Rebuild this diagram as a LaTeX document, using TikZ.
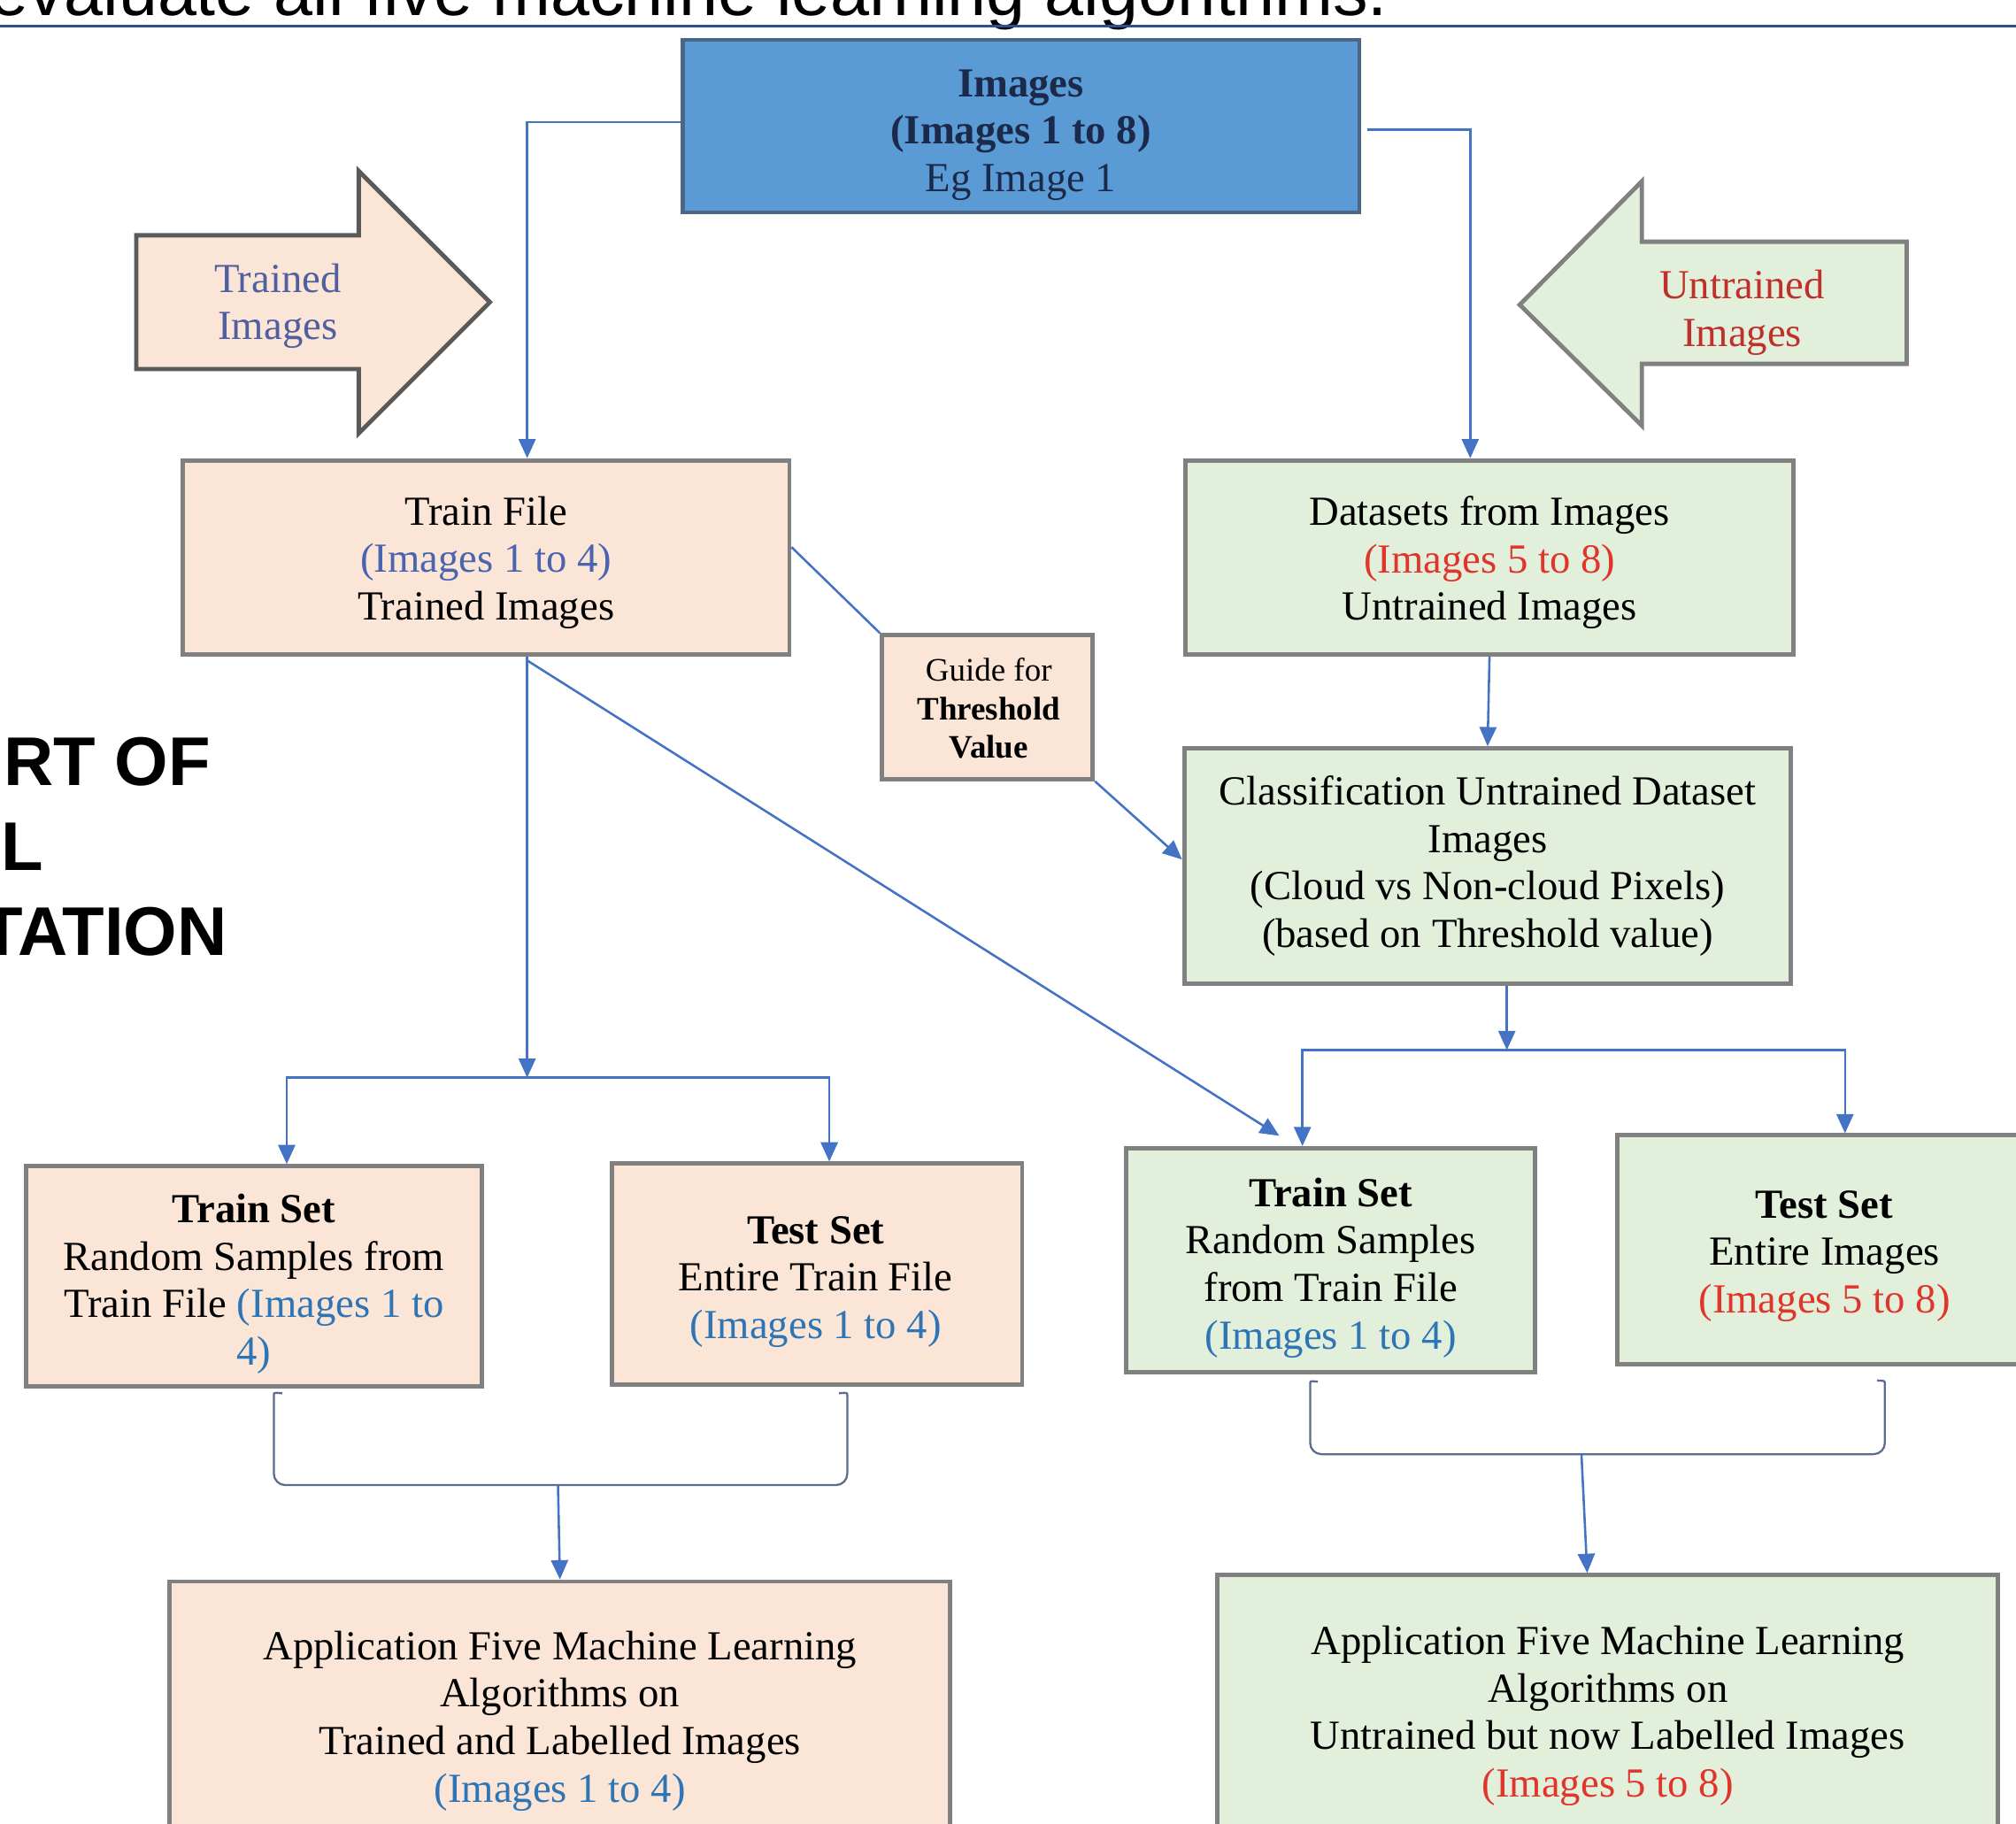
\documentclass[tikz,border=0pt]{standalone}
\usepackage{fontspec}
\setmainfont{Liberation Serif}
\newfontfamily\arialf{Liberation Sans}
\usetikzlibrary{arrows.meta,calc}
\definecolor{peach}{HTML}{FBE5D6}
\definecolor{lgreen}{HTML}{E2EFDA}
\definecolor{boxblue}{HTML}{5B9BD5}
\definecolor{boxblueline}{HTML}{4A6785}
\definecolor{bordergray}{HTML}{808080}
\definecolor{arrowgray}{HTML}{5A5A5A}
\definecolor{connblue}{HTML}{4472C4}
\definecolor{imgblue}{HTML}{2E75B6}
\definecolor{tfblue}{HTML}{4A64B0}
\definecolor{imgred}{HTML}{E0352B}
\definecolor{navy}{HTML}{1B2A4A}
\definecolor{slate}{HTML}{4F5F9F}
\definecolor{darkred}{HTML}{C0302A}
\definecolor{rulecol}{HTML}{2F4F8F}
\definecolor{brk}{HTML}{5A6E8C}
\begin{document}
\begin{tikzpicture}[x=0.02cm,y=-0.02cm,
  box/.style={draw=bordergray, line width=1.9pt, inner sep=0pt},
  pbox/.style={box, fill=peach},
  gbox/.style={box, fill=lgreen},
  txt/.style={inner sep=0pt, align=center, font=\fontsize{18.3}{21}\selectfont},
  conn/.style={draw=connblue, line width=1pt},
  arr/.style={conn, -{Triangle[length=8.5pt,width=7.5pt]}},
  bracket/.style={draw=brk, line width=0.9pt, rounded corners=5pt},
  blockarrow/.style={line width=1.9pt, line join=miter},
  bigsans/.style={inner sep=0pt, font=\arialf\bfseries\fontsize{30.5}{36}\selectfont},
]
\useasboundingbox (0,0) rectangle (1568,1418);
\clip (0,0) rectangle (1568,1418);
\fill[white] (0,0) rectangle (1568,1418);

% heading remnants (cut by the page edge as in the source)
\node[inner sep=0pt, anchor=base west, font=\arialf\fontsize{31}{36}\selectfont] (title) at (-8,12)
  {evaluate all five machine learning algorithms.};
\draw[rulecol, line width=1.2pt] (0,20) -- (1568,20);

\node[bigsans, anchor=base east] (lt1) at (164,611) {RT OF};
\node[bigsans, anchor=base east] (lt2) at (34,677) {L};
\node[bigsans, anchor=base east] (lt3) at (177,743) {TATION};

% block arrows
\draw[blockarrow, fill=peach, draw=arrowgray]
  (106,183) -- (279,183) -- (279,133) -- (381,235) -- (279,337) -- (279,287) -- (106,287) -- cycle;
\node[txt, text=slate] (trainedlbl) at (216,238) {Trained\\Images};
\draw[blockarrow, fill=lgreen, draw=bordergray]
  (1483,188) -- (1277,188) -- (1277,141) -- (1182,237) -- (1277,331) -- (1277,283) -- (1483,283) -- cycle;
\node[txt, text=darkred] (untrainedlbl) at (1355,243) {Untrained\\Images};

% boxes
\node[box, fill=boxblue, draw=boxblueline, line width=1.6pt, minimum width=10.52cm, minimum height=2.68cm] (img) at (794,98) {};
\node[txt, text=navy] (imgtext) at ($(img)+(0,7)$) {\textbf{Images}\\\textbf{(Images 1 to 8)}\\Eg Image 1};

\node[pbox, minimum width=9.44cm, minimum height=3.02cm] (tf) at (378,433.5) {};
\node[txt] (tftext) at ($(tf)+(0,4)$) {Train File\\\textcolor{tfblue}{(Images 1 to 4)}\\Trained Images};

\node[gbox, minimum width=9.46cm, minimum height=3.02cm] (ds) at (1158.5,433.5) {};
\node[txt] (dstext) at ($(ds)+(0,4)$) {Datasets from Images\\\textcolor{imgred}{(Images 5 to 8)}\\Untrained Images};

\node[pbox, minimum width=3.28cm, minimum height=2.24cm] (guide) at (768,550) {};
\node[txt, font=\fontsize{14.5}{17}\selectfont] (guidetext) at ($(guide)+(1,1)$) {Guide for\\\textbf{Threshold}\\\textbf{Value}};

\node[gbox, minimum width=9.44cm, minimum height=3.66cm] (cls) at (1157,673.5) {};
\node[txt] (clstext) at (cls) {Classification Untrained Dataset\\Images\\(Cloud vs Non-cloud Pixels)\\(based on Threshold value)};

\node[pbox, minimum width=7.1cm, minimum height=3.42cm] (lts) at (197.5,992.5) {};
\node[txt] (ltstext) at ($(lts)+(0,6)$) {\textbf{Train Set}\\Random Samples from\\Train File \textcolor{imgblue}{(Images 1 to}\\\textcolor{imgblue}{4)}};

\node[pbox, minimum width=6.38cm, minimum height=3.44cm] (lte) at (635.5,991) {};
\node[txt] (ltetext) at ($(lte)+(-1,6)$) {\textbf{Test Set}\\Entire Train File\\\textcolor{imgblue}{(Images 1 to 4)}};

\node[gbox, minimum width=6.36cm, minimum height=3.48cm] (rts) at (1035,980) {};
\node[txt] (rtstext) at ($(rts)+(0,6)$) {\textbf{Train Set}\\Random Samples\\from Train File\\\textcolor{imgblue}{(Images 1 to 4)}};

\node[gbox, minimum width=6.44cm, minimum height=3.56cm] (rte) at (1419,972) {};
\node[txt] (rtetext) at ($(rte)+(0,5)$) {\textbf{Test Set}\\Entire Images\\\textcolor{imgred}{(Images 5 to 8)}};

\node[pbox, minimum width=12.14cm, minimum height=4.3cm] (lapp) at (435.5,1337.5) {};
\node[txt] (lapptext) at ($(lapp)+(0,1)$) {Application Five Machine Learning\\Algorithms on\\Trained and Labelled Images\\\textcolor{imgblue}{(Images 1 to 4)}};

\node[gbox, minimum width=12.14cm, minimum height=4.3cm] (rapp) at (1250.5,1332.5) {};
\node[txt] (rapptext) at ($(rapp)+(0,2)$) {Application Five Machine Learning\\Algorithms on\\Untrained but now Labelled Images\\\textcolor{imgred}{(Images 5 to 8)}};

% connectors from the top box
\draw[arr] ($(img.west)+(0,-3)$) -| ($(tf.north)+(32,0)$);
\draw[arr] ($(img.east)+(5,3)$) -| ($(ds.north)+(-15,0)$);

% threshold guide
\draw[conn] ($(tf.east)+(0,-8)$) -- (guide.north west);
\draw[arr] (guide.south east) -- ($(cls.west)+(0,-5)$);
\draw[arr] (ds.south) -- (cls.north);

% left split
\coordinate (lsplit) at ($(tf.south)+(32,327.5)$);
\draw[arr] ($(tf.south)+(32,0)$) -- (lsplit);
\draw[arr] (lsplit) -| ($(lts.north)+(25.5,0)$);
\draw[arr] (lsplit) -| ($(lte.north)+(9.5,0)$);

% diagonal to right train set
\draw[arr] ($(tf.south)+(32,3)$) -- ($(rts.north)+(-40,-8)$);

% right split
\coordinate (rsplit) at ($(cls.south)+(15,50)$);
\draw[arr] ($(cls.south)+(15,0)$) -- (rsplit);
\draw[arr] (rsplit) -| ($(rts.north)+(-22,0)$);
\draw[arr] (rsplit) -| ($(rte.north)+(16,0)$);

% left bracket
\coordinate (lbr) at (434,1155);
\draw[bracket] ($(lts.south)+(22,4)$) .. controls (213,1083) .. (213,1094) -- (213,1155) -- (659,1155)
  -- (659,1094) .. controls (659,1083) .. ($(lte.south)+(17,5)$);
\draw[arr] (lbr) -- (lapp.north);

% right bracket
\coordinate (rbr) at (1230,1131);
\draw[bracket] ($(rts.south)+(-10,6)$) .. controls (1019,1074) .. (1019,1084) -- (1019,1131) -- (1466,1131)
  -- (1466,1084) .. controls (1466,1074) .. ($(rte.south)+(41,11)$);
\draw[arr] (rbr) -- ($(rapp.north)+(-16,0)$);
\end{tikzpicture}
\end{document}
